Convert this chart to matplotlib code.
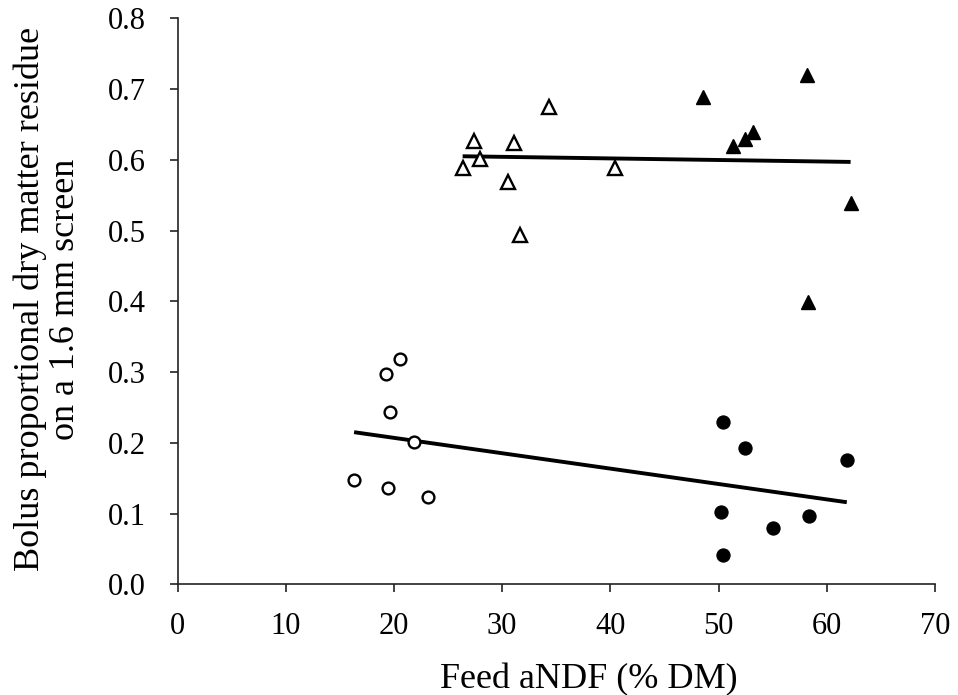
import matplotlib
matplotlib.use("Agg")
import matplotlib.pyplot as plt

plt.rcParams['font.family'] = ['Liberation Serif', 'DejaVu Serif']

# Open triangles
tri_open_x = [26.35, 27.4, 27.96, 31.14, 30.58, 31.67, 34.29, 40.4]
tri_open_y = [0.588, 0.627, 0.601, 0.624, 0.568, 0.494, 0.675, 0.588]
# Filled triangles
tri_fill_x = [48.57, 58.15, 51.3, 52.44, 53.15, 62.25, 58.27]
tri_fill_y = [0.689, 0.720, 0.619, 0.630, 0.639, 0.539, 0.399]
# Open circles
circ_open_x = [20.58, 19.26, 19.63, 21.82, 16.32, 19.44, 23.18]
circ_open_y = [0.319, 0.297, 0.243, 0.201, 0.147, 0.136, 0.124]
# Filled circles
circ_fill_x = [50.37, 52.44, 61.85, 50.21, 55.03, 58.36, 50.37]
circ_fill_y = [0.229, 0.192, 0.175, 0.102, 0.079, 0.096, 0.042]

# Regression lines (end points)
trend_tri_x = [26.35, 62.2]
trend_tri_y = [0.605, 0.597]
trend_circ_x = [16.32, 61.85]
trend_circ_y = [0.215, 0.116]

x_ticks = [0, 10, 20, 30, 40, 50, 60, 70]
y_ticks = [0.0, 0.1, 0.2, 0.3, 0.4, 0.5, 0.6, 0.7, 0.8]

fig = plt.figure(figsize=(9.58, 6.95), dpi=100)
ax = fig.add_axes([177.5 / 958, 1 - 584.3 / 695, (935 - 177.5) / 958, (584.3 - 18.3) / 695])

ax.plot(trend_tri_x, trend_tri_y, color='black', lw=2.8, solid_capstyle='butt', zorder=2)
ax.plot(trend_circ_x, trend_circ_y, color='black', lw=2.8, solid_capstyle='butt', zorder=2)

ax.plot(tri_open_x, tri_open_y, ls='none', marker='^', ms=9.5, mfc='white', mec='black', mew=1.7, zorder=3)
ax.plot(tri_fill_x, tri_fill_y, ls='none', marker='^', ms=10, mfc='black', mec='black', mew=1.0, zorder=3)
ax.plot(circ_open_x, circ_open_y, ls='none', marker='o', ms=8.5, mfc='white', mec='black', mew=1.7, zorder=3)
ax.plot(circ_fill_x, circ_fill_y, ls='none', marker='o', ms=9.5, mfc='black', mec='black', mew=0.8, zorder=3)

ax.set_xlim(0, 70)
ax.set_ylim(0, 0.8)
ax.set_xticks(x_ticks)
ax.set_xticklabels([str(t) for t in x_ticks])
ax.set_yticks(y_ticks)
ax.set_yticklabels([f"{t:.1f}" for t in y_ticks])

for side in ('top', 'right'):
    ax.spines[side].set_visible(False)
for side in ('left', 'bottom'):
    ax.spines[side].set_color('#222222')
    ax.spines[side].set_linewidth(1.2)

ax.tick_params(axis='both', direction='out', length=6, width=1.2, color='#222222',
               labelsize=22, labelcolor='black')
ax.tick_params(axis='x', pad=14)
ax.tick_params(axis='y', pad=17)

ax.set_xlabel('Feed aNDF (% DM)', fontsize=26, va='center', ha='center')
ax.xaxis.set_label_coords((589 - 177.5) / (935 - 177.5), (584.3 - 680) / 566)
ax.set_ylabel('Bolus proportional dry matter residue\non a 1.6 mm screen', fontsize=26,
              va='center', ha='center', linespacing=1.1)
ax.yaxis.set_label_coords((48 - 177.5) / (935 - 177.5), (584.3 - 299) / 566)

fig.savefig('out.png', dpi=100, facecolor='white')
